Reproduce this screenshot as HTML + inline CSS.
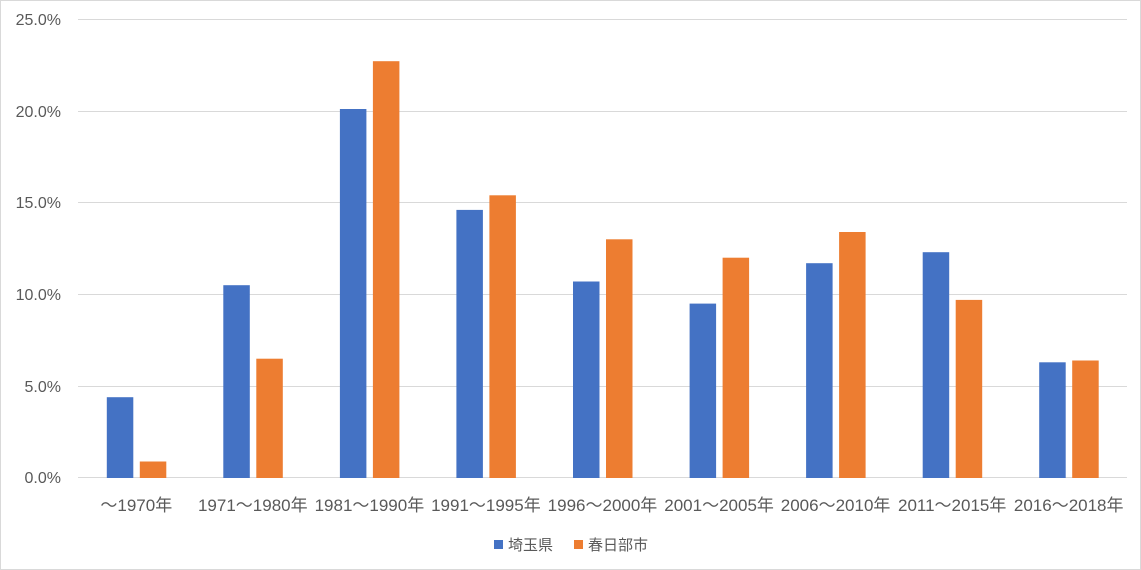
<!DOCTYPE html>
<html><head><meta charset="utf-8"><style>
html,body{margin:0;padding:0;background:#fff}
svg{display:block}
text{font-family:"Liberation Sans","Noto Sans CJK JP",sans-serif;fill:#595959}
</style></head><body>
<svg width="1141" height="570" viewBox="0 0 1141 570">
<rect x="0.5" y="0.5" width="1140" height="569" fill="#fff" stroke="#d9d9d9"/>
<g stroke="#d9d9d9" stroke-width="1">
<line x1="78" x2="1127" y1="19.5" y2="19.5"/>
<line x1="78" x2="1127" y1="111.5" y2="111.5"/>
<line x1="78" x2="1127" y1="202.5" y2="202.5"/>
<line x1="78" x2="1127" y1="294.5" y2="294.5"/>
<line x1="78" x2="1127" y1="386.5" y2="386.5"/>
<line x1="78" x2="1127" y1="477.5" y2="477.5"/>
</g>
<g font-size="16" text-anchor="end">
<text x="61" y="25">25.0%</text>
<text x="61" y="117">20.0%</text>
<text x="61" y="208">15.0%</text>
<text x="61" y="300">10.0%</text>
<text x="61" y="392">5.0%</text>
<text x="61" y="483">0.0%</text>
</g>
<g fill="#4472c4">
<rect x="106.8" y="397.2" width="26.5" height="80.8"/>
<rect x="223.3" y="285.2" width="26.5" height="192.8"/>
<rect x="339.9" y="109.0" width="26.5" height="369.0"/>
<rect x="456.4" y="209.9" width="26.5" height="268.1"/>
<rect x="573.0" y="281.5" width="26.5" height="196.5"/>
<rect x="689.6" y="303.6" width="26.5" height="174.4"/>
<rect x="806.1" y="263.2" width="26.5" height="214.8"/>
<rect x="922.7" y="252.2" width="26.5" height="225.8"/>
<rect x="1039.2" y="362.3" width="26.5" height="115.7"/>
</g>
<g fill="#ed7d31">
<rect x="139.8" y="461.5" width="26.5" height="16.5"/>
<rect x="256.3" y="358.7" width="26.5" height="119.3"/>
<rect x="372.9" y="61.2" width="26.5" height="416.8"/>
<rect x="489.4" y="195.3" width="26.5" height="282.7"/>
<rect x="606.0" y="239.3" width="26.5" height="238.7"/>
<rect x="722.6" y="257.7" width="26.5" height="220.3"/>
<rect x="839.1" y="232.0" width="26.5" height="246.0"/>
<rect x="955.7" y="299.9" width="26.5" height="178.1"/>
<rect x="1072.2" y="360.5" width="26.5" height="117.5"/>
</g>
<g font-size="17" text-anchor="middle">
<text x="136.3" y="511">～1970年</text>
<text x="252.8" y="511">1971～1980年</text>
<text x="369.4" y="511">1981～1990年</text>
<text x="485.9" y="511">1991～1995年</text>
<text x="602.5" y="511">1996～2000年</text>
<text x="719.1" y="511">2001～2005年</text>
<text x="835.6" y="511">2006～2010年</text>
<text x="952.2" y="511">2011～2015年</text>
<text x="1068.7" y="511">2016～2018年</text>
</g>
<rect x="494" y="540" width="9" height="9" fill="#4472c4"/>
<text x="508" y="550" font-size="15">埼玉県</text>
<rect x="574" y="540" width="9" height="9" fill="#ed7d31"/>
<text x="588" y="550" font-size="15">春日部市</text>
</svg>
</body></html>
